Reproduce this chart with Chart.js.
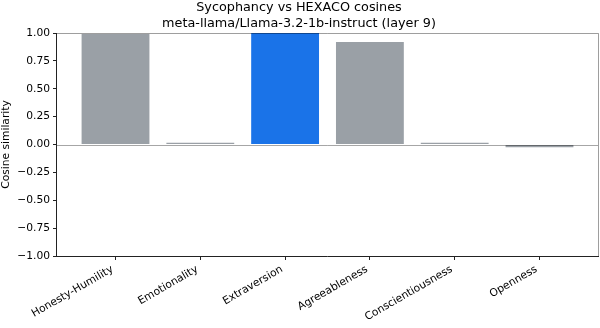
<!DOCTYPE html>
<html>
<head>
<meta charset="utf-8">
<script src="https://cdn.jsdelivr.net/npm/chart.js@4/dist/chart.umd.min.js"></script>
<style>
html,body{margin:0;padding:0;background:#fff;}
#wrap{width:600px;height:328px;position:relative;}
</style>
</head>
<body>
<div id="wrap"><canvas id="c" width="600" height="328"></canvas></div>
<script>
const categories = ["Honesty-Humility","Emotionality","Extraversion","Agreeableness","Conscientiousness","Openness"];
const cosines = [0.99, 0.015, 1.00, 0.92, 0.015, -0.025];
const highlighted = "Extraversion";
const yTicks = [-1.00,-0.75,-0.50,-0.25,0.00,0.25,0.50,0.75,1.00];
const titleLines = ["Sycophancy vs HEXACO cosines","meta-llama/Llama-3.2-1b-instruct (layer 9)"];
const yLabel = "Cosine similarity";

const FONT = "'DejaVu Sans', sans-serif";
const GRAY = "#9aa0a6", BLUE = "#1a73e8";

const framePlugin = {
  id: 'frame',
  afterDatasetsDraw(chart) {
    const {ctx, chartArea: a, scales: {y}} = chart;
    ctx.save();
    const y0 = Math.round(y.getPixelForValue(0)) + 0.5;
    ctx.strokeStyle = 'rgba(0,0,0,0.35)';
    ctx.lineWidth = 1;
    ctx.beginPath(); ctx.moveTo(a.left, y0); ctx.lineTo(a.right, y0); ctx.stroke();
    ctx.strokeStyle = 'rgba(0,0,0,0.38)';
    ctx.beginPath();
    ctx.moveTo(a.left, a.top + 0.5); ctx.lineTo(a.right + 0.5, a.top + 0.5);
    ctx.lineTo(a.right + 0.5, a.bottom);
    ctx.stroke();
    ctx.strokeStyle = '#222';
    ctx.beginPath();
    ctx.moveTo(a.left - 0.5, a.top); ctx.lineTo(a.left - 0.5, a.bottom + 0.5);
    ctx.lineTo(a.right + 1, a.bottom + 0.5);
    ctx.stroke();
    ctx.restore();
  }
};

new Chart(document.getElementById('c'), {
  type: 'bar',
  data: {
    datasets: [{
      data: categories.map((c, i) => ({x: i, y: cosines[i]})),
      backgroundColor: categories.map(c => c === highlighted ? BLUE : GRAY),
      borderWidth: 0,
      categoryPercentage: 0.8,
      barPercentage: 1.0
    }]
  },
  options: {
    responsive: false,
    animation: false,
    devicePixelRatio: 1,
    layout: {padding: {left: 0, right: 2, top: 0, bottom: 0}},
    plugins: {
      legend: {display: false},
      tooltip: {enabled: false},
      title: {
        display: true,
        text: titleLines,
        color: '#000',
        font: {family: FONT, size: 12.8, weight: 'normal', lineHeight: 1.25},
        padding: {top: 0, bottom: 1}
      }
    },
    scales: {
      x: {
        type: 'linear',
        offset: false,
        min: -0.69, max: 5.69,
        afterBuildTicks(s) { s.ticks = categories.map((c, i) => ({value: i})); },
        afterFit(s) { s.height = 72; },
        grid: {display: true, offset: false, drawOnChartArea: false, drawTicks: true, tickLength: 4, color: '#222', tickWidth: 1},
        border: {display: false},
        ticks: {
          autoSkip: false,
          minRotation: 30, maxRotation: 30,
          padding: 3,
          labelOffset: -3,
          color: '#000',
          font: {family: FONT, size: 10.7},
          callback: (v) => categories[v]
        }
      },
      y: {
        min: -1, max: 1,
        afterBuildTicks(s) { s.ticks = yTicks.map(v => ({value: v})); },
        afterFit(s) { s.width = 57; },
        grid: {display: true, drawOnChartArea: false, drawTicks: true, tickLength: 4, color: '#222'},
        border: {display: false},
        title: {
          display: true,
          text: yLabel,
          color: '#000',
          font: {family: FONT, size: 10.7},
          padding: {top: 0, bottom: 0}
        },
        ticks: {
          padding: 3,
          color: '#000',
          font: {family: FONT, size: 10.7},
          callback: (v) => v.toFixed(2).replace('-', '\u2212')
        }
      }
    }
  },
  plugins: [framePlugin]
});
</script>
</body>
</html>
